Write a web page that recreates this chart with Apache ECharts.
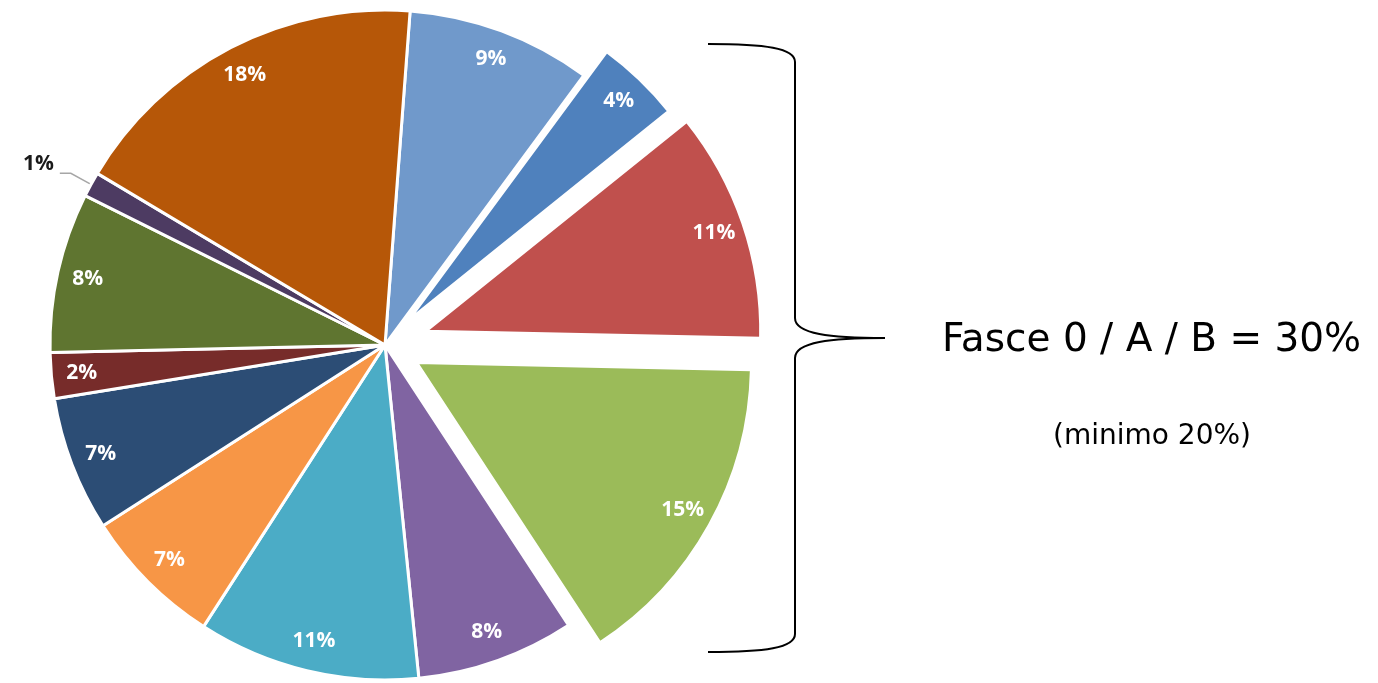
<!DOCTYPE html>
<html>
<head>
<meta charset="utf-8">
<script src="https://cdn.jsdelivr.net/npm/echarts@6/dist/echarts.min.js"></script>
<style>
html,body{margin:0;padding:0;background:#fff;}
#chart{width:1378px;height:683px;}
</style>
</head>
<body>
<div id="chart"></div>
<script>
// ---- data (percent shares, clockwise from the top) ----
const categories = ['Fascia 1','Fascia 2','Fascia 3','Fascia 4','Fascia 5','Fascia 6','Fascia 7','Fascia 8','Fascia 9','Fascia 10','Fascia 11','Fascia 12'];
const values = [8.9, 4.1, 11.1, 15.4, 7.6, 10.7, 6.8, 6.5, 2.2, 7.7, 1.2, 17.6];
const colors = ['#7099CB','#4F81BD','#C0504D','#9BBB59','#8064A2','#4BACC6','#F79646','#2C4D75','#772C2A','#5F7530','#4D3B62','#B65708'];
const annotationTitle = 'Fasce 0 / A / B = 30%';
const annotationSub = '(minimo 20%)';

// ---- layout / style ----
const CX = 385, CY = 345, R = 335;
const START = 85.7;
const explodeOffsets = [0, 33, 43, 36, 0, 0, 0, 0, 0, 0, 0, 0];
const outsideLabel = [false, false, false, false, false, false, false, false, false, false, true, false];
const LABEL_FONT = '"Open Sans", "Liberation Sans", sans-serif';
const fmt = p => Math.round(p.value) + '%';
const fmtOut = p => Math.round(p.value) + '%\n ';

const offsetGroups = Array.from(new Set(explodeOffsets));

function sectorSeries(off) {
  return {
    type: 'pie',
    center: [CX, CY],
    radius: [0, R],
    startAngle: START,
    clockwise: true,
    selectedMode: 'multiple',
    selectedOffset: off,
    silent: true,
    avoidLabelOverlap: false,
    emphasis: { disabled: true },
    data: values.map((v, i) => {
      const mine = explodeOffsets[i] === off;
      const showOut = mine && outsideLabel[i];
      return {
        name: categories[i],
        value: v,
        selected: mine && off > 0,
        itemStyle: mine ? { color: colors[i], borderColor: '#ffffff', borderWidth: 3 }
                        : { color: 'rgba(0,0,0,0)', borderWidth: 0 },
        label: showOut ? {
          show: true, position: 'outside', color: '#1a1a1a', fontWeight: 'bold',
          fontSize: 21, lineHeight: 18, fontFamily: LABEL_FONT, formatter: fmtOut,
          distanceToLabelLine: 6
        } : { show: false },
        labelLine: showOut ? { show: true, length: 23, length2: 11, lineStyle: { color: '#a6a6a6', width: 1.5 } } : { show: false }
      };
    })
  };
}

function labelSeries(off) {
  return {
    type: 'pie',
    center: [CX, CY],
    radius: [R * 0.8, R],
    startAngle: START,
    clockwise: true,
    selectedMode: 'multiple',
    selectedOffset: off,
    silent: true,
    avoidLabelOverlap: false,
    emphasis: { disabled: true },
    itemStyle: { color: 'rgba(0,0,0,0)', borderWidth: 0 },
    label: {
      position: 'inside', color: '#ffffff', fontWeight: 'bold',
      fontSize: 21, fontFamily: LABEL_FONT, formatter: fmt
    },
    labelLine: { show: false },
    data: values.map((v, i) => {
      const mine = explodeOffsets[i] === off;
      return {
        name: categories[i],
        value: v,
        selected: mine && off > 0,
        label: { show: mine && !outsideLabel[i] }
      };
    })
  };
}

const series = offsetGroups.map(sectorSeries).concat(offsetGroups.map(labelSeries));

const braceStyle = { fill: 'none', stroke: '#000', lineWidth: 2 };
function bez(x1, y1, cpx1, cpy1, cpx2, cpy2, x2, y2) {
  return { type: 'bezierCurve', shape: { x1, y1, cpx1, cpy1, cpx2, cpy2, x2, y2 }, style: braceStyle };
}
function seg(x1, y1, x2, y2) {
  return { type: 'line', shape: { x1, y1, x2, y2 }, style: braceStyle };
}

const chart = echarts.init(document.getElementById('chart'), null, { renderer: 'canvas' });
chart.setOption({
  backgroundColor: '#ffffff',
  animation: false,
  series: series,
  graphic: [
    bez(708, 44, 765, 44, 795, 48, 795, 62),
    seg(795, 62, 795, 318),
    bez(795, 318, 795, 334, 830, 338, 885, 338),
    bez(885, 338, 830, 338, 795, 342, 795, 358),
    seg(795, 358, 795, 634),
    bez(795, 634, 795, 648, 765, 652, 708, 652),
    {
      type: 'text',
      style: {
        text: annotationTitle,
        x: 942, y: 341,
        font: '39px "DejaVu Sans", sans-serif',
        fill: '#000',
        textAlign: 'left',
        textVerticalAlign: 'middle'
      }
    },
    {
      type: 'text',
      style: {
        text: annotationSub,
        x: 1152, y: 437,
        font: '28px "DejaVu Sans", sans-serif',
        fill: '#000',
        textAlign: 'center',
        textVerticalAlign: 'middle'
      }
    }
  ]
});
</script>
</body>
</html>
